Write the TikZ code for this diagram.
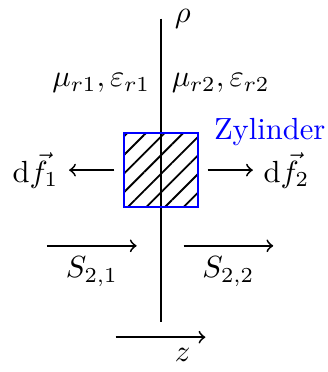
\documentclass[tikz,border=0pt]{standalone}
\usepackage{xcolor}
\usetikzlibrary{positioning}
\usetikzlibrary{patterns.meta}

\begin{document}
\begin{tikzpicture}[
            boundary/.style={color=black, semithick},
            flowarrow/.style={color=black, semithick, ->},
            zylbox/.style={draw=blue, semithick, minimum size=0.85cm, inner sep=0pt,
                pattern={Lines[angle=45, distance=4.3pt, line width=0.6pt]}},
            zyllabel/.style={color=blue}
        ]
            \useasboundingbox (-1.85, -2.32) rectangle (1.91, 1.955);

            % interface
            \coordinate (top) at (0, 1.74);
            \coordinate (bottom) at (0, -1.74);
            \draw[boundary] (top) -- (bottom);
            \node[right, xshift=1pt] (rho) at (top) {$\rho$};

            % materials
            \node[left] (mat1) at (0, 1.0) {$\mu_{r1},\varepsilon_{r1}$};
            \node[right] (mat2) at (0, 1.0) {$\mu_{r2},\varepsilon_{r2}$};

            % cylinder
            \node[zylbox] (zyl) at (0, 0) {};
            \node[zyllabel, right=0.05cm of zyl.north east] (zylname) {Zylinder};

            % forces
            \node[left=0.62cm of zyl] (df1) {$\mathrm{d}\vec{f}_1$};
            \node[right=0.62cm of zyl] (df2) {$\mathrm{d}\vec{f}_2$};
            \draw[flowarrow] ([xshift=-0.1cm]zyl.west) -- (df1);
            \draw[flowarrow] ([xshift=0.1cm]zyl.east) -- (df2);

            % poynting vectors
            \coordinate (s1a) at (-1.31, -0.87);
            \coordinate (s1b) at (-0.28, -0.87);
            \coordinate (s2a) at (0.26, -0.87);
            \coordinate (s2b) at (1.29, -0.87);
            \draw[flowarrow] (s1a) -- (s1b) node[midway, below] (s21) {$S_{2,1}$};
            \draw[flowarrow] (s2a) -- (s2b) node[midway, below] (s22) {$S_{2,2}$};

            % z axis
            \coordinate (za) at (-0.52, -1.92);
            \coordinate (zb) at (0.51, -1.92);
            \draw[flowarrow] (za) -- (zb);
            \node[below] (zlab) at (0.25, -1.92) {$z$};

        \end{tikzpicture}
\end{document}
